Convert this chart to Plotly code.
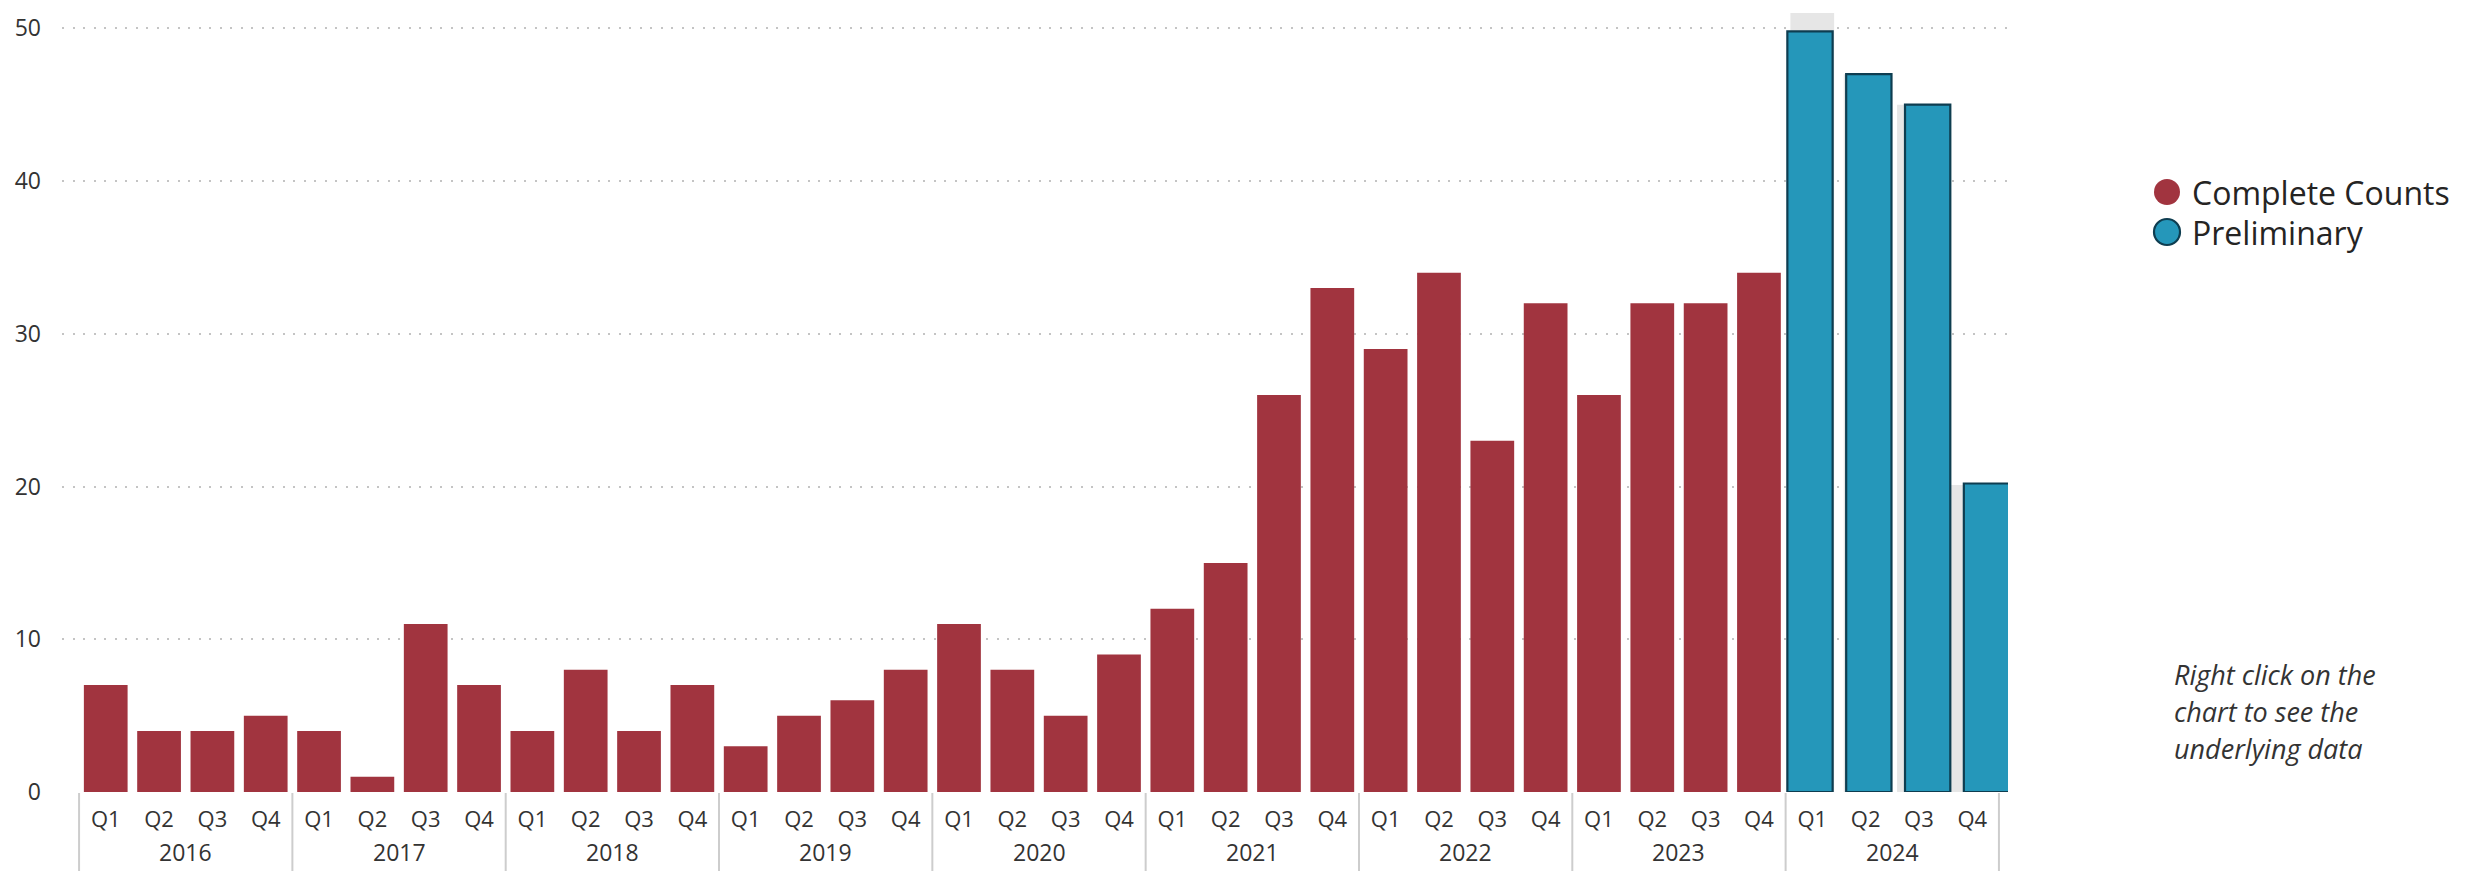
import plotly.graph_objects as go

# ---------------- data ----------------
years_complete = ["2016"] * 4 + ["2017"] * 4 + ["2018"] * 4 + ["2019"] * 4 + \
                 ["2020"] * 4 + ["2021"] * 4 + ["2022"] * 4 + ["2023"] * 4
quarters_complete = ["Q1", "Q2", "Q3", "Q4"] * 8
complete_counts = [7, 4, 4, 5,
                   4, 1, 11, 7,
                   4, 8, 4, 7,
                   3, 5, 6, 8,
                   11, 8, 5, 9,
                   12, 15, 26, 33,
                   29, 34, 23, 32,
                   26, 32, 32, 34]

years_prelim = ["2024"] * 4
quarters_prelim = ["Q1", "Q2", "Q3", "Q4"]
preliminary = [49.8, 47.0, 45.0, 20.2]
background_2024 = [51.0, 47.0, 45.0, 20.1]   # light grey bars of the base visual

y_ticks = [0, 10, 20, 30, 40, 50]
legend_names = ["Complete Counts", "Preliminary"]
note_lines = ["Right click on the", "chart to see the", "underlying data"]

# ---------------- styling ----------------
RED = "#A1343F"
BLUE = "#2597BA"
BLUE_EDGE = "#0E3D50"
GREY_BG = "#E6E6E6"
TEXT = "#333333"
DIVIDER = "#CDCDCD"
FONT = "Open Sans"

# page has an 8px body margin; work in page pixels and convert
OFF = 8
W, H = 2483 - 2 * OFF, 879 - 2 * OFF
L, T = 62 - OFF, 10 - OFF
R = W - (2008 - OFF)
B = H - (792 - OFF)
plot_w = W - L - R
plot_h = H - T - B


def px_x(page_x):
    return (page_x - OFF - L) / plot_w


def px_y(page_y):
    return (H - B - (page_y - OFF)) / plot_h


# category keys (year + quarter) shown with the quarter as tick text
all_years = years_complete + years_prelim
all_quarters = quarters_complete + quarters_prelim
cats_complete = [f"{y} {q}" for y, q in zip(years_complete, quarters_complete)]
cats_prelim = [f"{y} {q}" for y, q in zip(years_prelim, quarters_prelim)]
all_cats = cats_complete + cats_prelim

fig = go.Figure()

fig.add_trace(go.Bar(
    x=cats_complete, y=complete_counts,
    marker=dict(color=RED, line=dict(width=0)), width=0.82,
    name=legend_names[0], showlegend=False, hoverinfo="x+y",
))
fig.add_trace(go.Bar(
    x=cats_prelim, y=background_2024,
    marker=dict(color=GREY_BG, line=dict(width=0)), width=0.82,
    showlegend=False, hoverinfo="skip",
))
fig.add_trace(go.Bar(
    x=quarters_prelim, y=preliminary, xaxis="x2", yaxis="y",
    marker=dict(color=BLUE, line=dict(color=BLUE_EDGE, width=2.2)), width=0.77,
    name=legend_names[1], showlegend=False, hoverinfo="y",
))

# overlay axis for the preliminary visual (slightly wider spacing)
q1_center_px = 1810.0
period_px = 58.83
x2_lo = -0.5 - ((q1_center_px - period_px / 2) - 62) / period_px
x2_hi = -0.5 + (2008 - (q1_center_px - period_px / 2)) / period_px

fig.update_layout(
    width=W, height=H,
    margin=dict(l=L, r=R, t=T, b=B, pad=0, autoexpand=False),
    paper_bgcolor="white", plot_bgcolor="white",
    barmode="overlay",
    showlegend=False,
    font=dict(family=FONT, color=TEXT, size=22),
    xaxis=dict(
        type="category",
        categoryorder="array", categoryarray=all_cats,
        tickvals=all_cats, ticktext=all_quarters,
        range=[-0.82, 35.67],
        showgrid=False, zeroline=False, showline=False,
        ticks="", ticklabelstandoff=12,
        tickfont=dict(family=FONT, size=22, color=TEXT),
        automargin=False,
    ),
    xaxis2=dict(
        type="category", overlaying="x", anchor="y",
        range=[x2_lo, x2_hi],
        showgrid=False, zeroline=False, showline=False,
        showticklabels=False, ticks="",
    ),
    yaxis=dict(
        range=[0, 51.2],
        tickvals=y_ticks,
        showgrid=True, gridcolor="#C4C4C4", griddash="2px,8.5px", gridwidth=1.6,
        zeroline=False, showline=False, ticks="",
        ticklabelstandoff=20,
        tickfont=dict(family=FONT, size=23, color=TEXT),
        automargin=False,
    ),
)

# year group labels and group dividers, derived from the year list
year_order = list(dict.fromkeys(all_years))
boundaries = []
for yr in year_order:
    idx = [i for i, y in enumerate(all_years) if y == yr]
    fig.add_annotation(
        x=sum(idx) / len(idx), y=px_y(852), xref="x", yref="paper",
        text=yr, showarrow=False, xanchor="center", yanchor="middle",
        font=dict(family=FONT, size=23, color=TEXT),
    )
    boundaries.append(min(idx) - 0.5)
boundaries.append(len(all_years) - 0.5)
for bx in boundaries:
    fig.add_shape(
        type="line", xref="x", yref="paper",
        x0=bx, x1=bx, y0=px_y(793), y1=px_y(876),
        line=dict(color=DIVIDER, width=2),
    )

# custom legend with large circular swatches
legend_y_px = [192, 232]
legend_colors = [(RED, RED, 0), (BLUE, BLUE_EDGE, 2.2)]
for name, ypx, (fill, edge, lw) in zip(legend_names, legend_y_px, legend_colors):
    fig.add_shape(
        type="circle", xref="paper", yref="paper",
        xsizemode="pixel", ysizemode="pixel",
        xanchor=px_x(2167), yanchor=px_y(ypx),
        x0=-13, x1=13, y0=-13, y1=13,
        fillcolor=fill, line=dict(color=edge, width=lw),
    )
    fig.add_annotation(
        x=px_x(2190), y=px_y(ypx), xref="paper", yref="paper",
        text=name, showarrow=False, xanchor="left", yanchor="middle",
        font=dict(family=FONT, size=32, color="#252423"),
    )

note_y_px = [674, 711, 748]
for line, ypx in zip(note_lines, note_y_px):
    fig.add_annotation(
        x=px_x(2172), y=px_y(ypx), xref="paper", yref="paper",
        text="<i>" + line + "</i>", showarrow=False,
        xanchor="left", yanchor="middle",
        font=dict(family=FONT, size=27, color="#333333"),
    )

fig.write_html("out.html")
